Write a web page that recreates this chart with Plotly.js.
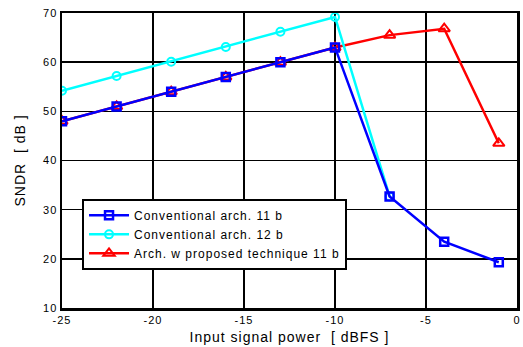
<!DOCTYPE html>
<html>
<head>
<meta charset="utf-8">
<script src="https://cdn.plot.ly/plotly-3.0.1.min.js"></script>
<style>
html, body { margin: 0; padding: 0; background: #fff; }
#chart { width: 523px; height: 347px; }
svg text { letter-spacing: 1px; }
</style>
</head>
<body>
<div id="chart"></div>
<script>
var xValues = [-25, -22, -19, -16, -13, -10, -7, -4, -1];
var conv11 = [48, 51, 54, 57, 60, 63, 32.7, 23.5, 19.3];
var conv12x = [-25, -22, -19, -16, -13, -10, -7];
var conv12 = [54.2, 57.2, 60.1, 63.1, 66.2, 69.2, 32.7];
var proposed11 = [48, 51, 54, 57, 60, 63, 65.5, 66.8, 43.5];
var seriesNames = ["Conventional arch. 11 b", "Conventional arch. 12 b", "Arch. w proposed technique 11 b"];
var xTicks = [-25, -20, -15, -10, -5, 0];
var yTicks = [10, 20, 30, 40, 50, 60, 70];

var traces = [
  {
    x: xValues, y: proposed11, name: seriesNames[2], legendrank: 3,
    mode: "lines+markers", type: "scatter",
    line: {color: "#ff0000", width: 2.5},
    marker: {symbol: "triangle-up-open", size: 10, color: "#ff0000", line: {width: 2, color: "#ff0000"}}
  },
  {
    x: conv12x, y: conv12, name: seriesNames[1], legendrank: 2,
    mode: "lines+markers", type: "scatter",
    line: {color: "#00ffff", width: 2.5},
    marker: {symbol: "circle-open", size: 8, color: "#00ffff", line: {width: 2, color: "#00ffff"}}
  },
  {
    x: xValues, y: conv11, name: seriesNames[0], legendrank: 1,
    mode: "lines+markers", type: "scatter",
    line: {color: "#0000ff", width: 2.5},
    marker: {symbol: "square-open", size: 8, color: "#0000ff", line: {width: 2.5, color: "#0000ff"}}
  }
];

var layout = {
  width: 523, height: 347,
  margin: {l: 62, r: 6, t: 13, b: 39},
  paper_bgcolor: "#ffffff", plot_bgcolor: "#ffffff",
  font: {family: "Liberation Sans, Arial, sans-serif", color: "#000000", size: 11},
  showlegend: true,
  legend: {
    x: 0.044, y: 0.37, xanchor: "left", yanchor: "top",
    bgcolor: "#ffffff", bordercolor: "#000000", borderwidth: 2,
    font: {size: 12, color: "#000000"},
    tracegroupgap: 0, itemwidth: 40
  },
  xaxis: {
    range: [-25, 0], tickvals: xTicks, ticktext: xTicks.map(String),
    showgrid: true, gridcolor: "#000000", gridwidth: 1.5,
    showline: true, linecolor: "#000000", linewidth: 2.5, mirror: true,
    zeroline: false, ticks: "", tickfont: {size: 11}, ticklabeloverflow: "allow",
    title: {text: "Input signal power  [ dBFS ]", font: {size: 14}, standoff: 8}
  },
  yaxis: {
    range: [10, 70], tickvals: yTicks, ticktext: yTicks.map(String),
    showgrid: true, gridcolor: "#000000", gridwidth: 1.5,
    showline: true, linecolor: "#000000", linewidth: 2.5, mirror: true,
    zeroline: false, ticks: "", tickfont: {size: 11},
    title: {text: "SNDR  [ dB ]", font: {size: 14}, standoff: 14}
  }
};

Plotly.newPlot("chart", traces, layout, {displayModeBar: false, staticPlot: true});
</script>
</body>
</html>
